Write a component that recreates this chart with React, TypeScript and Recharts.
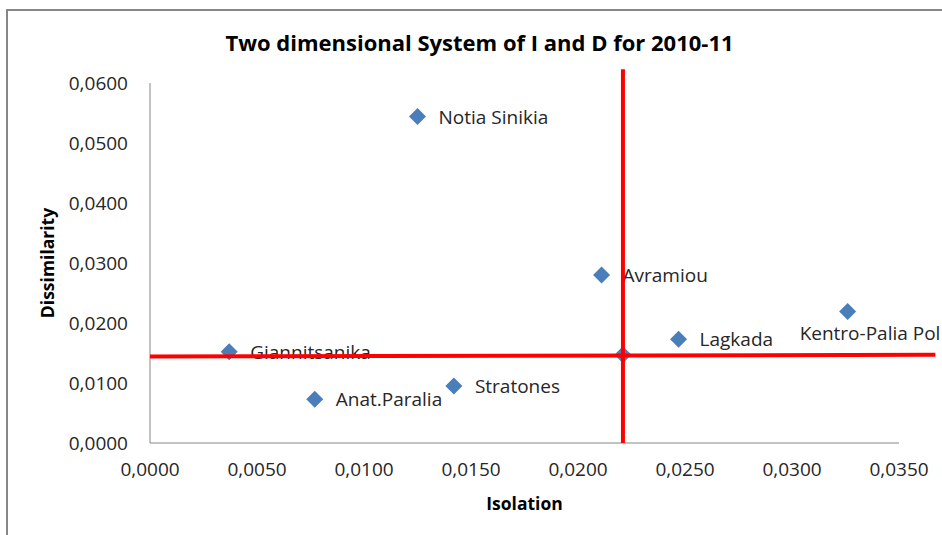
import React from "react";
import {
  Label,
  ReferenceLine,
  Scatter,
  ScatterChart,
  XAxis,
  YAxis,
} from "recharts";

const places = [
  "Notia Sinikia",
  "Giannitsanika",
  "Anat.Paralia",
  "Stratones",
  "Avramiou",
  "Lagkada",
  "Kentro-Palia Pol",
];
const isolation = [0.0125, 0.0037, 0.0077, 0.0142, 0.0211, 0.0247, 0.0326];
const dissimilarity = [0.0544, 0.0152, 0.0073, 0.0095, 0.028, 0.0173, 0.0219];

// unlabelled point sitting under the red cross
const centreIsolation = [0.0221];
const centreDissimilarity = [0.0147];

// the two red dividing lines, drawn by hand in the original
const verticalLineX = [0.0221, 0.0221];
const verticalLineY = [0, 0.0623];
const horizontalLineX = [0, 0.0367];
const horizontalLineY = [0.0144, 0.0147];

const xTicks = [0, 0.005, 0.01, 0.015, 0.02, 0.025, 0.03, 0.035];
const yTicks = [0, 0.01, 0.02, 0.03, 0.04, 0.05, 0.06];

const points = places.map((name, i) => ({
  name,
  x: isolation[i],
  y: dissimilarity[i],
}));
const centre = centreIsolation.map((x, i) => ({
  name: "",
  x,
  y: centreDissimilarity[i],
}));

const font = "'Open Sans', sans-serif";
const blue = "#4a7ebb";
const grey = "#868686";

const fmt = (v: number) => v.toFixed(4).replace(".", ",");

const Diamond = (props: any) => {
  const { cx, cy, payload } = props;
  const r = 8.5;
  const below = payload.name === "Kentro-Palia Pol";
  return (
    <g>
      <polygon
        points={`${cx},${cy - r} ${cx + r},${cy} ${cx},${cy + r} ${cx - r},${cy}`}
        fill={blue}
      />
      {payload.name ? (
        <text
          x={below ? cx - 48 : cx + 21}
          y={below ? cy + 21 : cy}
          dominantBaseline="central"
          fontFamily={font}
          fontSize={19}
          fill="#262626"
        >
          {payload.name}
        </text>
      ) : null}
    </g>
  );
};

export default function App() {
  return (
    <div
      style={{
        position: "absolute",
        left: 0,
        top: 0,
        width: 942,
        height: 535,
        overflow: "hidden",
        background: "#fff",
      }}
    >
      <div
        style={{
          position: "absolute",
          left: 6,
          top: 9,
          width: 1000,
          height: 600,
          borderLeft: `2px solid ${grey}`,
          borderTop: `2px solid ${grey}`,
        }}
      />
      <div
        style={{
          position: "absolute",
          left: 0,
          top: 27,
          width: 959,
          textAlign: "center",
          fontFamily: font,
          fontWeight: 700,
          fontSize: 22,
          lineHeight: "30px",
          color: "#000",
        }}
      >
        Two dimensional System of I and D for 2010-11
      </div>
      <div style={{ position: "absolute", left: 0, top: 0 }}>
        <ScatterChart
          width={942}
          height={535}
          margin={{ top: 83, right: 43, bottom: 0, left: 0 }}
        >
          <XAxis
            type="number"
            dataKey="x"
            domain={[0, 0.035]}
            ticks={xTicks}
            tickFormatter={fmt}
            height={92}
            tickLine={false}
            tickSize={0}
            tickMargin={20}
            stroke={grey}
            tick={{ fill: "#262626", fontFamily: font, fontSize: 19 }}
          >
            <Label
              content={({ viewBox }: any) => (
                <text
                  x={viewBox.x + viewBox.width / 2}
                  y={503}
                  textAnchor="middle"
                  dominantBaseline="central"
                  fontFamily={font}
                  fontWeight={700}
                  fontSize={17.5}
                  fill="#000"
                >
                  Isolation
                </text>
              )}
            />
          </XAxis>
          <YAxis
            type="number"
            dataKey="y"
            domain={[0, 0.06]}
            ticks={yTicks}
            tickFormatter={fmt}
            width={150}
            tickLine={false}
            tickSize={0}
            tickMargin={22}
            stroke={grey}
            tick={{ fill: "#262626", fontFamily: font, fontSize: 19 }}
          >
            <Label
              content={({ viewBox }: any) => (
                <text
                  x={47}
                  y={viewBox.y + viewBox.height / 2}
                  transform={`rotate(-90, 47, ${viewBox.y + viewBox.height / 2})`}
                  textAnchor="middle"
                  dominantBaseline="central"
                  fontFamily={font}
                  fontWeight={700}
                  fontSize={17.5}
                  fill="#000"
                >
                  Dissimilarity
                </text>
              )}
            />
          </YAxis>
          <Scatter
            data={centre}
            shape={Diamond}
            isAnimationActive={false}
          />
          <Scatter
            data={points}
            shape={Diamond}
            isAnimationActive={false}
          />
          <ReferenceLine
            segment={[
              { x: verticalLineX[0], y: verticalLineY[0] },
              { x: verticalLineX[1], y: verticalLineY[1] },
            ]}
            stroke="#ff0000"
            strokeWidth={4}
            ifOverflow="visible"
            zIndex={1000}
          />
          <ReferenceLine
            segment={[
              { x: horizontalLineX[0], y: horizontalLineY[0] },
              { x: horizontalLineX[1], y: horizontalLineY[1] },
            ]}
            stroke="#ff0000"
            strokeWidth={4}
            ifOverflow="visible"
            zIndex={1000}
          />
        </ScatterChart>
      </div>
    </div>
  );
}
